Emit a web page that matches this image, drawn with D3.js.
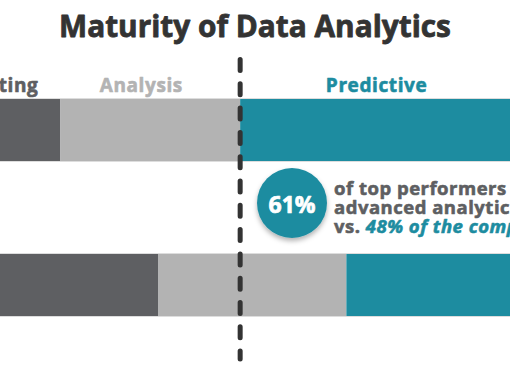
<!DOCTYPE html>
<html>
<head>
<meta charset="utf-8">
<script src="https://cdn.jsdelivr.net/npm/d3@7"></script>
<style>
  html, body { margin: 0; padding: 0; background: #fff; overflow: hidden; }
  svg { display: block; font-family: "Open Sans", "Lato", sans-serif; }
</style>
</head>
<body>
<div id="chart"></div>
<script>
// stages of analytics maturity, left to right
var stages = ["Reporting", "Analysis", "Predictive"];
var stageColors = ["#5e5f62", "#b3b3b3", "#1d8ca0"];
// share of each stage (percent), top row and bottom row
var topShares = [26, 22, 52];
var bottomShares = [38, 23, 39];
// the dashed divider (advanced analytics threshold)
var dividerAt = 48;
// callout values
var topPerformersPct = 61;
var competitionPct = 48;

var width = 510, height = 382;

var svg = d3.select("#chart").append("svg")
  .attr("width", width)
  .attr("height", height);

var defs = svg.append("defs");
var shadow = defs.append("filter").attr("id", "shadow")
  .attr("x", "-30%").attr("y", "-30%").attr("width", "160%").attr("height", "160%");
shadow.append("feDropShadow")
  .attr("dx", 0).attr("dy", 3).attr("stdDeviation", 2.5)
  .attr("flood-color", "#000").attr("flood-opacity", 0.3);

// the picture is a crop of a wider graphic, so the scale runs off both edges
var x = d3.scaleLinear().domain([0, 100]).range([-152, 665]);
var y = d3.scaleBand().domain(["top", "bottom"]).range([99, 316]).paddingInner(0.6);

function stack(shares) {
  var acc = 0;
  return shares.map(function(v, i) {
    var d = {stage: stages[i], x0: acc, x1: acc + v};
    acc += v;
    return d;
  });
}

var rows = [
  {row: "top", segs: stack(topShares)},
  {row: "bottom", segs: stack(bottomShares)}
];

// heavier strokes to get closer to the original's bold face
function heavy(sel, color, w) {
  sel.attr("stroke", color).attr("stroke-width", w)
    .attr("stroke-linejoin", "round").attr("paint-order", "stroke");
}

// title
var title = svg.append("text")
  .attr("x", width / 2)
  .attr("y", 37)
  .attr("text-anchor", "middle")
  .attr("font-weight", 700)
  .attr("font-size", 28)
  .attr("fill", "#333333")
  .text("Maturity of Data Analytics");
heavy(title, "#333333", 0.8);
// fit the title to the reference width
var tw = title.node().getComputedTextLength();
title.attr("font-size", 28 * 392 / tw);

// stage labels
var labelX = [23.3, 35.9, 64.7];
svg.selectAll(".stage-label")
  .data(stages)
  .enter().append("text")
  .attr("class", "stage-label")
  .attr("x", function(d, i) { return x(labelX[i]); })
  .attr("y", 92)
  .attr("text-anchor", function(d, i) { return i == 0 ? "end" : "middle"; })
  .attr("font-weight", 700)
  .attr("font-size", 19)
  .attr("letter-spacing", 0.6)
  .attr("fill", function(d, i) { return stageColors[i]; })
  .each(function(d, i) { heavy(d3.select(this), stageColors[i], 0.6); })
  .text(function(d) { return d; });

// bars
var rowG = svg.selectAll(".row")
  .data(rows)
  .enter().append("g")
  .attr("class", "row");

rowG.selectAll("rect")
  .data(function(d) { return d.segs.map(function(s) { s.row = d.row; return s; }); })
  .enter().append("rect")
  .attr("x", function(d) { return x(d.x0); })
  .attr("y", function(d) { return y(d.row); })
  .attr("width", function(d) { return x(d.x1) - x(d.x0); })
  .attr("height", y.bandwidth())
  .attr("fill", function(d) { return stageColors[stages.indexOf(d.stage)]; });

// faint edge lines along the bars
rowG.append("rect")
  .attr("x", x(0))
  .attr("y", function(d) { return y(d.row) - 0.5; })
  .attr("width", x(100) - x(0))
  .attr("height", y.bandwidth() + 1)
  .attr("fill", "none")
  .attr("stroke", "#dddddd")
  .attr("stroke-width", 1);

// dashed divider
svg.append("line")
  .attr("x1", x(dividerAt)).attr("x2", x(dividerAt))
  .attr("y1", 59.5).attr("y2", 359)
  .attr("stroke", "#333333")
  .attr("stroke-width", 5)
  .attr("stroke-linecap", "round")
  .attr("stroke-dasharray", "11,13.3");

// callout
var cx = 292, cy = 203;
svg.append("circle")
  .attr("cx", cx).attr("cy", cy).attr("r", 35)
  .attr("fill", stageColors[2])
  .attr("filter", "url(#shadow)");

var big = svg.append("text")
  .attr("x", cx).attr("y", 213)
  .attr("text-anchor", "middle")
  .attr("font-weight", 700)
  .attr("font-size", 23)
  .attr("fill", "#ffffff")
  .text(topPerformersPct + "%");
heavy(big, "#ffffff", 0.7);

var note = svg.append("text")
  .attr("x", 334)
  .attr("font-weight", 700)
  .attr("font-size", 18.5)
  .attr("letter-spacing", 0.5)
  .attr("fill", "#5e5f62");
heavy(note, "#5e5f62", 0.6);

note.append("tspan").attr("x", 334).attr("y", 195).text("of top performers use");
note.append("tspan").attr("x", 334).attr("y", 214).text("advanced analytics,");
note.append("tspan").attr("x", 334).attr("y", 233).text("vs. ");
note.append("tspan")
  .attr("font-style", "italic")
  .attr("fill", stageColors[2])
  .attr("stroke", stageColors[2])
  .text(competitionPct + "% of the competition");
</script>
</body>
</html>
